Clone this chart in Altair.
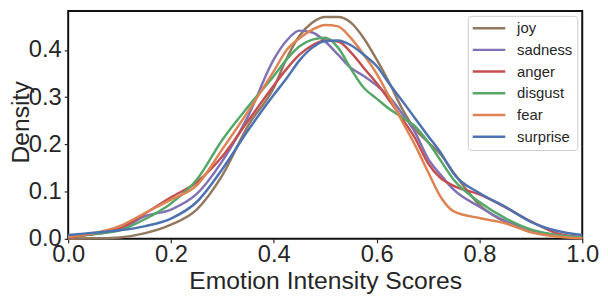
import altair as alt
import pandas as pd

# x grid of the KDE curves (emotion intensity score)
scores = [0.0, 0.05, 0.1, 0.15, 0.2, 0.25, 0.3, 0.35, 0.4, 0.425, 0.45, 0.475, 0.5,
          0.525, 0.55, 0.575, 0.6, 0.625, 0.65, 0.675, 0.7, 0.725, 0.75, 0.8, 0.85,
          0.9, 0.95, 1.0]

joy = [0.000, 0.001, 0.003, 0.012, 0.030, 0.062, 0.135, 0.240, 0.320, 0.382, 0.430,
       0.458, 0.470, 0.470, 0.458, 0.425, 0.380, 0.330, 0.275, 0.232, 0.205, 0.178,
       0.140, 0.072, 0.036, 0.018, 0.006, 0.002]
sadness = [0.005, 0.010, 0.020, 0.048, 0.062, 0.095, 0.165, 0.260, 0.380, 0.420, 0.441,
           0.437, 0.418, 0.390, 0.362, 0.345, 0.325, 0.300, 0.265, 0.225, 0.170, 0.135,
           0.104, 0.068, 0.038, 0.018, 0.008, 0.003]
anger = [0.003, 0.010, 0.022, 0.054, 0.088, 0.120, 0.175, 0.250, 0.325, 0.360, 0.390,
         0.410, 0.420, 0.418, 0.395, 0.362, 0.330, 0.293, 0.254, 0.213, 0.160, 0.128,
         0.112, 0.094, 0.067, 0.037, 0.012, 0.003]
disgust = [0.006, 0.010, 0.018, 0.042, 0.075, 0.125, 0.210, 0.280, 0.345, 0.380, 0.408,
           0.422, 0.426, 0.405, 0.360, 0.320, 0.297, 0.275, 0.257, 0.238, 0.205, 0.165,
           0.125, 0.078, 0.044, 0.020, 0.008, 0.003]
fear = [0.004, 0.012, 0.027, 0.055, 0.083, 0.113, 0.190, 0.270, 0.355, 0.400, 0.425,
        0.443, 0.453, 0.450, 0.425, 0.390, 0.350, 0.300, 0.248, 0.198, 0.142, 0.088,
        0.058, 0.044, 0.033, 0.014, 0.005, 0.001]
surprise = [0.008, 0.013, 0.018, 0.027, 0.043, 0.078, 0.148, 0.230, 0.305, 0.340, 0.378,
            0.405, 0.419, 0.420, 0.410, 0.390, 0.366, 0.328, 0.292, 0.255, 0.218, 0.182,
            0.138, 0.097, 0.068, 0.036, 0.017, 0.008]

emotions = ["joy", "sadness", "anger", "disgust", "fear", "surprise"]
colors = ["#937860", "#8172B3", "#C44E52", "#55A868", "#DD8452", "#4C72B0"]
series = [joy, sadness, anger, disgust, fear, surprise]

x_ticks = [0.0, 0.2, 0.4, 0.6, 0.8, 1.0]
y_ticks = [0.0, 0.1, 0.2, 0.3, 0.4]

rows = []
for name, ys in zip(emotions, series):
    for xv, yv in zip(scores, ys):
        rows.append({"score": xv, "density": yv, "emotion": name})
df = pd.DataFrame(rows)

FONT = "Liberation Sans"
TXT = "#262626"
W, H = 521, 231

chart = alt.Chart(df).mark_line(interpolate="monotone", strokeWidth=2.5).encode(
    x=alt.X("score:Q",
            scale=alt.Scale(domain=[0, 1], nice=False, zero=False),
            axis=alt.Axis(title="Emotion Intensity Scores", values=x_ticks, format=".1f",
                          grid=False, domain=False, tickSize=4, tickWidth=1.2,
                          tickColor=TXT, labelFontSize=24, labelFont=FONT,
                          labelColor=TXT, labelPadding=0, labelFlush=False,
                          labelOverlap=False, titleFontSize=25, titleFont=FONT,
                          titleColor=TXT, titleFontWeight="normal", titleX=W / 2,
                          titleY=50, titleBaseline="alphabetic", titleAlign="center")),
    y=alt.Y("density:Q",
            scale=alt.Scale(domain=[0, 0.48276], nice=False, zero=True),
            axis=alt.Axis(title="Density", values=y_ticks, format=".1f",
                          grid=False, domain=False, tickSize=4, tickWidth=1.2,
                          tickColor=TXT, labelFontSize=24, labelFont=FONT,
                          labelColor=TXT, labelPadding=3, labelOverlap=False,
                          titleFontSize=25, titleFont=FONT, titleColor=TXT,
                          titleFontWeight="normal", titleX=-40, titleY=112.5,
                          titleAngle=270, titleBaseline="alphabetic",
                          titleAlign="center")),
    color=alt.Color("emotion:N",
                    scale=alt.Scale(domain=emotions, range=colors),
                    legend=alt.Legend(title=None, orient="none", legendX=405, legendY=5,
                                      symbolType="M-3,0H3", symbolSize=121,
                                      symbolStrokeWidth=2.5, symbolOffset=9,
                                      labelOffset=21, labelFontSize=15, labelFont=FONT,
                                      labelColor=TXT, fillColor="white",
                                      strokeColor="#cccccc", cornerRadius=3,
                                      padding=5, rowPadding=6)),
).properties(
    width=W, height=H,
    autosize=alt.AutoSizeParams(type="none"),
    padding={"left": 61, "top": 1, "right": 18, "bottom": 56},
).configure_view(stroke="#111111", strokeWidth=2)

chart.save("out.html", embed_options={"renderer": "svg", "actions": False})
